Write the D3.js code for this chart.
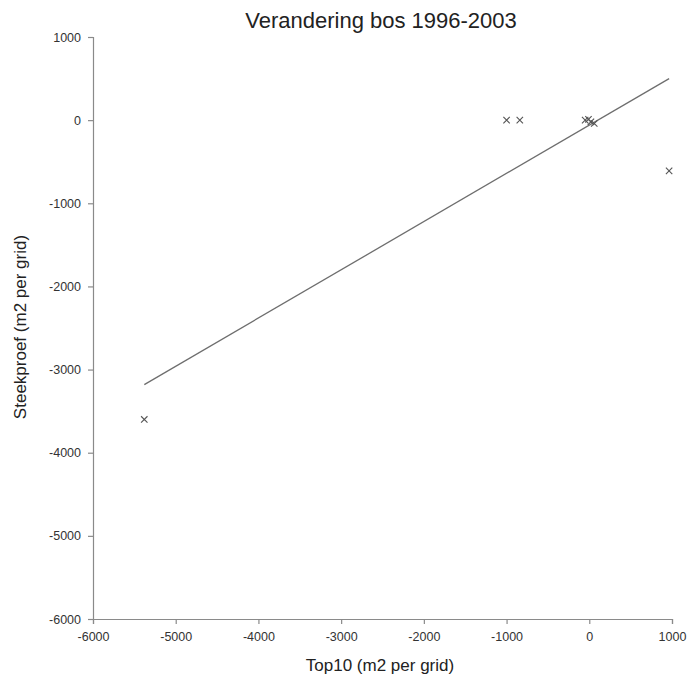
<!DOCTYPE html>
<html>
<head>
<meta charset="utf-8">
<script src="https://cdn.jsdelivr.net/npm/d3@7/dist/d3.min.js"></script>
<style>
  html, body { margin: 0; padding: 0; background: #fff; }
  svg { display: block; font-family: "Liberation Sans", Arial, sans-serif; }
</style>
</head>
<body>
<svg id="chart" width="689" height="675"></svg>
<script>
// Change in forest area per grid cell, 1996-2003: Top10 map vs. sample survey
const top10 = [-5380, -1000, -840, -50, -10, 20, 60, 965];
const steekproef = [-3600, 0, 0, 0, 10, -20, -40, -610];

// Linear trendline (y = slope * x + intercept) over the data range
const trendSlope = 0.58;
const trendIntercept = -60;

const xTicks = [-6000, -5000, -4000, -3000, -2000, -1000, 0, 1000];
const yTicks = [1000, 0, -1000, -2000, -3000, -4000, -5000, -6000];

const titleText = "Verandering bos 1996-2003";
const xLabel = "Top10 (m2 per grid)";
const yLabel = "Steekproef (m2 per grid)";

const svg = d3.select("#chart");
const plot = { left: 93, right: 672, top: 37, bottom: 619 };

const x = d3.scaleLinear().domain([-6000, 1000]).range([plot.left, plot.right]);
const y = d3.scaleLinear().domain([-6000, 1000]).range([plot.bottom, plot.top]);

const axisColor = "#8a8a8a";
const textColor = "#333";

// Axes
const xAxis = svg.append("g")
  .attr("transform", `translate(0,${plot.bottom})`)
  .call(d3.axisBottom(x).tickValues(xTicks).tickSizeOuter(0).tickSize(5).tickPadding(8));
const yAxis = svg.append("g")
  .attr("transform", `translate(${plot.left},0)`)
  .call(d3.axisLeft(y).tickValues(yTicks).tickSizeOuter(0).tickSize(5).tickPadding(7));

[xAxis, yAxis].forEach(g => {
  g.select(".domain").attr("stroke", axisColor).attr("stroke-width", 1.2);
  g.selectAll(".tick line").attr("stroke", axisColor).attr("stroke-width", 1.2);
  g.selectAll(".tick text")
    .attr("fill", textColor)
    .style("font-size", "12.5px")
    .text(d => String(d));
});

// Trendline across the range of the data
const [xMin, xMax] = d3.extent(top10);
svg.append("line")
  .attr("x1", x(xMin)).attr("y1", y(trendSlope * xMin + trendIntercept))
  .attr("x2", x(xMax)).attr("y2", y(trendSlope * xMax + trendIntercept))
  .attr("stroke", "#6e6e6e")
  .attr("stroke-width", 1.3);

// Cross markers
const s = 3.2;
const pts = top10.map((v, i) => [v, steekproef[i]]);
const marks = svg.append("g").attr("stroke", "#555").attr("stroke-width", 1.1);
pts.forEach(([vx, vy]) => {
  const cx = x(vx), cy = y(vy);
  marks.append("path")
    .attr("d", `M${cx - s},${cy - s}L${cx + s},${cy + s}M${cx - s},${cy + s}L${cx + s},${cy - s}`);
});

// Title and axis labels
svg.append("text")
  .attr("x", 381).attr("y", 28)
  .attr("text-anchor", "middle")
  .attr("fill", "#222")
  .style("font-size", "22px")
  .text(titleText);

svg.append("text")
  .attr("x", 380).attr("y", 671)
  .attr("text-anchor", "middle")
  .attr("fill", "#222")
  .style("font-size", "17px")
  .text(xLabel);

svg.append("text")
  .attr("transform", `translate(26,327) rotate(-90)`)
  .attr("text-anchor", "middle")
  .attr("fill", "#222")
  .style("font-size", "17px")
  .text(yLabel);
</script>
</body>
</html>
